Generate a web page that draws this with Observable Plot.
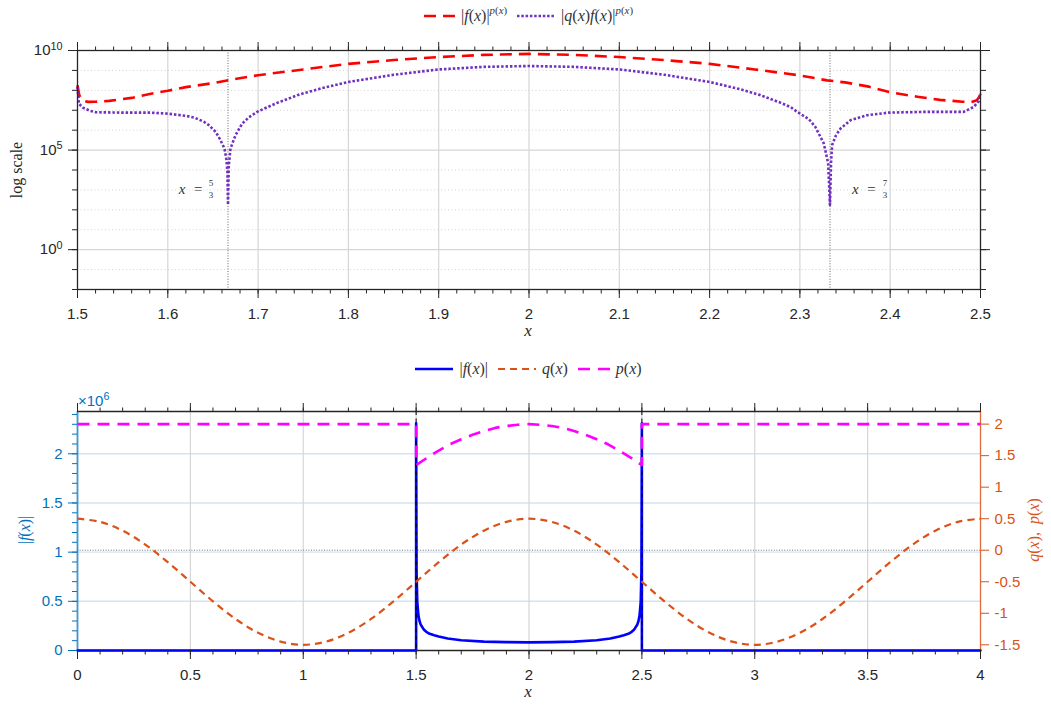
<!DOCTYPE html>
<html><head><meta charset="utf-8">
<script src="https://cdn.jsdelivr.net/npm/d3@7"></script>
<script src="https://cdn.jsdelivr.net/npm/@observablehq/plot@0.6"></script>
<style>
body{margin:0;background:#fff;}
#wrap{position:relative;width:1051px;height:706px;overflow:hidden;font-family:"Liberation Sans",Arial,sans-serif;}
.abs{position:absolute;white-space:nowrap;}
.tex{font-family:"Liberation Serif","DejaVu Serif",serif;}
.legend{position:absolute;left:0;width:1057px;height:20px;display:flex;justify-content:center;align-items:center;font-family:"Liberation Serif",serif;font-size:16px;color:#333;}
sup{font-size:0.68em;vertical-align:0.6em;line-height:0;}
.rot{transform:translate(-50%,-50%) rotate(-90deg);}
.ctr{transform:translate(-50%,-50%);}
</style></head>
<body><div id="wrap"></div>
<script>
// ---------------- DATA ----------------
// Top panel (x in [1.5, 2.5]) : |f(x)|^p(x)
const topXf = [1.5,1.502,1.506,1.512,1.52,1.535,1.56,1.58,1.6,1.62,1.65,1.67,1.7,1.75,1.8,1.85,1.9,1.95,2.0,
  2.05,2.1,2.15,2.2,2.25,2.3,2.33,2.35,2.375,2.4,2.43,2.455,2.48,2.49,2.496,2.499,2.5];
const topFp = [1.78e8,5.62e7,3.02e7,2.63e7,2.69e7,2.95e7,4.17e7,6.61e7,9.55e7,1.45e8,2.29e8,3.39e8,5.75e8,1.12e9,2.14e9,3.31e9,4.68e9,6.03e9,6.76e9,
  6.03e9,4.68e9,3.31e9,2.14e9,1.12e9,5.62e8,3.16e8,2.51e8,1.58e8,7.94e7,4.79e7,3.31e7,2.69e7,2.63e7,3.16e7,5.01e7,1.0e8];
// Top panel : |q(x) f(x)|^p(x)
const topXqf = [1.5,1.5015,1.506,1.514,1.52,1.55,1.58,1.6,1.62,1.63,1.64,1.645,1.653,1.658,1.6628,1.665,1.666,1.6667,
  1.6675,1.6694,1.675,1.6824,1.69,1.699,1.71,1.7212,1.745,1.77,1.8,1.85,1.9,1.95,2.0,
  2.05,2.1,2.15,2.2,2.23,2.255,2.279,2.29,2.297,2.31,2.317,2.3265,2.3313,2.3333,
  2.3345,2.3357,2.34,2.345,2.356,2.3745,2.398,2.44,2.4815,2.4926,2.498,2.5];
const topQfp = [1.48e8,2.14e7,1.35e7,9.33e6,7.94e6,7.59e6,7.59e6,6.76e6,5.25e6,4.17e6,2.63e6,1.86e6,8.32e5,3.39e5,1.2e5,3.16e4,7.94e3,178,
  1.58e4,1.2e5,5.62e5,2.14e6,4.47e6,8.32e6,1.41e7,2.34e7,6.03e7,1.26e8,2.63e8,6.03e8,1.12e9,1.51e9,1.66e9,
  1.51e9,1.12e9,6.03e8,2.63e8,1.26e8,6.03e7,2.34e7,1.41e7,8.32e6,3.55e6,1.48e6,2.14e5,2.14e4,178,
  2.51e4,1.78e5,5.62e5,1.2e6,3.16e6,5.62e6,7.59e6,8.32e6,8.32e6,1.48e7,2.82e7,6.76e7];
const markerX = [5/3, 7/3];
const markerNum = ["5", "7"];
const markerDen = ["3", "3"];
const annotY = 1.12e3;

// Bottom panel (x in [0, 4])
const xF = [0,1.5,1.5,1.502,1.505,1.51,1.515,1.52,1.535,1.545,1.56,1.58,1.6,1.64,1.7,1.8,1.9,2.0,
  2.1,2.2,2.3,2.36,2.4,2.42,2.44,2.455,2.465,2.48,2.485,2.49,2.495,2.498,2.5,2.5,4];
const fVals = [0,0,2.31e6,8.0e5,5.0e5,3.6e5,3.0e5,2.65e5,2.1e5,1.9e5,1.7e5,1.55e5,1.42e5,1.22e5,1.04e5,9.0e4,8.5e4,8.3e4,
  8.5e4,9.0e4,1.04e5,1.22e5,1.42e5,1.55e5,1.7e5,1.9e5,2.1e5,2.65e5,3.0e5,3.6e5,5.0e5,8.0e5,2.31e6,0,0];
const xQ = [0,0.1,0.2,0.3,0.4,0.5,0.6,0.7,0.8,0.9,1.0,1.1,1.2,1.3,1.4,1.5,1.6,1.7,1.8,1.9,2.0,
  2.1,2.2,2.3,2.4,2.5,2.6,2.7,2.8,2.9,3.0,3.1,3.2,3.3,3.4,3.5,3.6,3.7,3.8,3.9,4.0];
const qVals = [0.5,0.45,0.31,0.09,-0.19,-0.5,-0.81,-1.09,-1.31,-1.45,-1.5,-1.45,-1.31,-1.09,-0.81,-0.5,-0.19,0.09,0.31,0.45,0.5,
  0.45,0.31,0.09,-0.19,-0.5,-0.81,-1.09,-1.31,-1.45,-1.5,-1.45,-1.31,-1.09,-0.81,-0.5,-0.19,0.09,0.31,0.45,0.5];
const xP = [0,1.5,1.5,1.55,1.6,1.65,1.7,1.75,1.8,1.85,1.9,1.95,2.0,2.05,2.1,2.15,2.2,2.25,2.3,2.35,2.4,2.45,2.5,2.5,4];
const pVals = [2,2,1.35,1.47,1.58,1.68,1.76,1.83,1.89,1.94,1.97,1.99,2.0,1.99,1.97,1.94,1.89,1.83,1.76,1.68,1.58,1.47,1.35,2,2];
const jumpX = [1.5, 2.5];

// ticks / labels
const topXTicks = [1.5,1.6,1.7,1.8,1.9,2,2.1,2.2,2.3,2.4,2.5];
const topYMajor = [1, 1e5, 1e10];
const topYMajorLabels = ["10^0", "10^5", "10^10"];
const botXTicks = [0,0.5,1,1.5,2,2.5,3,3.5,4];
const leftTicks = [0,0.5e6,1e6,1.5e6,2e6];
const leftTickLabels = ["0","0.5","1","1.5","2"];
const rightTicks = [2,1.5,1,0.5,0,-0.5,-1,-1.5];
const rightTickLabels = ["2","1.5","1","0.5","0","-0.5","-1","-1.5"];

const topLegend = [
  {label: '|<i>f</i>(<i>x</i>)|<sup><i>p</i>(<i>x</i>)</sup>', color: "#FF0000", sw: 2.5, dash: "12,7", w: 31},
  {label: '|<i>q</i>(<i>x</i>)<i>f</i>(<i>x</i>)|<sup><i>p</i>(<i>x</i>)</sup>', color: "#7030C0", sw: 2.5, dash: "2.5,1.8", w: 38}
];
const botLegend = [
  {label: '|<i>f</i>(<i>x</i>)|', color: "#0000FF", sw: 2.5, dash: null, w: 38},
  {label: '<i>q</i>(<i>x</i>)', color: "#D95319", sw: 2, dash: "7,5", w: 38},
  {label: '<i>p</i>(<i>x</i>)', color: "#FF00FF", sw: 2.5, dash: "12,8", w: 32}
];

// ---------------- STYLE ----------------
const W = 1051;
const AX = "#262626";
const BLUE_AX = "#0072BD";
const ORANGE = "#D95319";
const GRID = "#d6d6d6";
const lDom = [0, 2.43e6];
const rDom = [-1.59, 2.2];
const toLeft = v => (v - rDom[0]) / (rDom[1] - rDom[0]) * (lDom[1] - lDom[0]) + lDom[0];
const fromLeft = d => (d - lDom[0]) / (lDom[1] - lDom[0]) * (rDom[1] - rDom[0]) + rDom[0];
const fmt1 = d => String(Math.round(d * 10) / 10);
const none = () => "";
const pts = (xs, ys) => xs.map((x, i) => ({x, y: ys[i]}));

const wrap = document.getElementById("wrap");
const baseStyle = {fontFamily: '"Liberation Sans", Arial, sans-serif', fontSize: "15px", background: "transparent", overflow: "visible"};

// ---------------- TOP PLOT ----------------
const topXMinor = d3.range(0, 51).map(i => 1.5 + i * 0.02);
const decades = d3.range(-2, 11).map(k => Math.pow(10, k));
const minorDecades = decades.filter(d => !topYMajor.includes(d));

const topMarks = [
  Plot.ruleY(minorDecades, {stroke: "#d2d2d2", strokeDasharray: "1,2.5", strokeWidth: 1}),
  Plot.ruleY(topYMajor, {stroke: GRID, strokeWidth: 1.2}),
  Plot.ruleX(topXTicks.slice(1, -1), {stroke: GRID, strokeWidth: 1.2}),
  Plot.ruleX(markerX, {stroke: "#555", strokeDasharray: "1,1.6", strokeWidth: 0.9}),
  Plot.line(pts(topXf, topFp), {x: "x", y: "y", stroke: "#FF0000", strokeWidth: 2.6, strokeDasharray: "12,7", strokeLinecap: "butt"}),
  Plot.line(pts(topXqf, topQfp), {x: "x", y: "y", stroke: "#7030C0", strokeWidth: 2.6, strokeDasharray: "2.5,1.9", strokeLinecap: "butt"}),
  Plot.frame({stroke: AX, strokeWidth: 1.3}),
  Plot.axisX(topXMinor, {anchor: "bottom", tickSize: 4.5, tickFormat: none, color: AX, label: null}),
  Plot.axisX(topXTicks, {anchor: "bottom", tickSize: 9, tickPadding: 10, tickFormat: fmt1, color: AX, label: null}),
  Plot.axisX(topXMinor, {anchor: "top", tickSize: 4.5, tickFormat: none, color: AX, label: null}),
  Plot.axisX(topXTicks, {anchor: "top", tickSize: 9, tickFormat: none, color: AX, label: null}),
  Plot.axisY(decades, {anchor: "left", tickSize: 5, tickFormat: none, color: AX, label: null}),
  Plot.axisY(topYMajor, {anchor: "left", tickSize: 9, tickPadding: 6, tickFormat: d => topYMajorLabels[topYMajor.indexOf(d)], color: AX, label: null}),
  Plot.axisY(decades, {anchor: "right", tickSize: 5, tickFormat: none, color: AX, label: null}),
  Plot.axisY(topYMajor, {anchor: "right", tickSize: 9, tickFormat: none, color: AX, label: null})
];
// annotations x = 5/3, x = 7/3
markerX.forEach((mx, i) => {
  const left = i === 0;
  const d = [{x: mx, y: annotY}];
  const tfont = {fontFamily: '"Liberation Serif", serif', fill: "#333"};
  const dxEq = left ? -25 : 22;
  const dxFr = left ? -17 : 55;
  topMarks.push(
    Plot.text(d, {x: "x", y: "y", text: () => "x\u2002=", dx: dxEq, textAnchor: left ? "end" : "start", fontSize: 15, fontStyle: "italic", lineAnchor: "middle", ...tfont}),
    Plot.text(d, {x: "x", y: "y", text: () => markerNum[i], dx: dxFr, dy: -5.5, fontSize: 9, lineAnchor: "middle", ariaLabel: "frac-num", ...tfont}),
    Plot.text(d, {x: "x", y: "y", text: () => markerDen[i], dx: dxFr, dy: 6.5, fontSize: 9, lineAnchor: "middle", ...tfont})
  );
});

const topChart = Plot.plot({
  width: W, height: 345,
  marginLeft: 77, marginRight: 71, marginTop: 50, marginBottom: 56,
  x: {domain: [1.5, 2.5]},
  y: {type: "log", domain: [1e-2, 1e10]},
  style: baseStyle,
  marks: topMarks
});
// superscript exponents
d3.select(topChart).selectAll("text").each(function () {
  const m = (this.textContent || "").match(/^10\^(-?\d+)$/);
  if (m) {
    const s = d3.select(this);
    s.text(null);
    s.append("tspan").text("10");
    s.append("tspan").attr("dy", "-0.5em").attr("font-size", "0.72em").text(m[1]);
  }
});
// fraction bar as underline of the numerator
d3.select(topChart).selectAll('g[aria-label="frac-num"] text').attr("text-decoration", "underline");
topChart.style.position = "absolute"; topChart.style.left = "0px"; topChart.style.top = "0px";
wrap.appendChild(topChart);

// ---------------- BOTTOM PLOT ----------------
const botXMinor = d3.range(0, 41).map(i => i * 0.1);
const leftMinor = d3.range(0, 25).map(i => i * 1e5);
const gridL = leftTicks.slice(1);

const botChart = Plot.plot({
  width: W, height: 361,
  marginLeft: 77, marginRight: 71, marginTop: 66, marginBottom: 56,
  x: {domain: [0, 4]},
  y: {domain: lDom},
  style: baseStyle,
  marks: [
    Plot.ruleY(gridL, {stroke: "#d3e3f2", strokeWidth: 1.4}),
    Plot.ruleX(botXTicks.slice(1, -1), {stroke: GRID, strokeWidth: 1.2}),
    Plot.ruleY([toLeft(0)], {stroke: "#666", strokeDasharray: "1,1.6", strokeWidth: 0.9}),
    Plot.ruleY([lDom[0]], {stroke: AX, strokeWidth: 1.3}),
    Plot.ruleY([lDom[1]], {stroke: AX, strokeWidth: 1.3}),
    Plot.ruleX([0], {stroke: BLUE_AX, strokeWidth: 1.8, strokeOpacity: 0.75}),
    Plot.ruleX([4], {stroke: ORANGE, strokeWidth: 1.3, strokeOpacity: 0.85}),
    Plot.line(pts(xF, fVals), {x: "x", y: "y", stroke: "#0000FF", strokeWidth: 2.6}),
    Plot.ruleX(jumpX, {stroke: "#000", strokeDasharray: "4,3.5", strokeWidth: 1}),
    Plot.line(pts(xQ, qVals), {x: "x", y: d => toLeft(d.y), stroke: ORANGE, strokeWidth: 2.2, strokeDasharray: "7,5", strokeLinecap: "butt", curve: "catmull-rom"}),
    Plot.line(pts(xP, pVals), {x: "x", y: d => toLeft(d.y), stroke: "#FF00FF", strokeWidth: 2.6, strokeDasharray: "12,8", strokeLinecap: "butt"}),
    Plot.axisX(botXMinor, {anchor: "bottom", tickSize: 4.5, tickFormat: none, color: AX, label: null}),
    Plot.axisX(botXTicks, {anchor: "bottom", tickSize: 9, tickPadding: 10, tickFormat: fmt1, color: AX, label: null}),
    Plot.axisX(botXMinor, {anchor: "top", tickSize: 4.5, tickFormat: none, color: AX, label: null}),
    Plot.axisX(botXTicks, {anchor: "top", tickSize: 9, tickFormat: none, color: AX, label: null}),
    Plot.axisY(leftMinor, {anchor: "left", tickSize: 5, tickFormat: none, color: BLUE_AX, label: null}),
    Plot.axisY(leftTicks, {anchor: "left", tickSize: 9, tickPadding: 6, tickFormat: d => leftTickLabels[leftTicks.indexOf(d)], color: BLUE_AX, label: null}),
    Plot.axisY(rightTicks.map(toLeft), {anchor: "right", tickSize: 8, tickPadding: 6,
      tickFormat: d => { const v = Math.round(fromLeft(d) * 2) / 2; return rightTickLabels[rightTicks.indexOf(v)] ?? String(v); },
      color: ORANGE, label: null})
  ]
});
botChart.style.position = "absolute"; botChart.style.left = "0px"; botChart.style.top = "345px";
wrap.appendChild(botChart);

// ---------------- TEXT OVERLAYS ----------------
function addHTML(html, css, cls) {
  const d = document.createElement("div");
  d.className = "abs " + (cls || "");
  d.style.cssText += css;
  d.innerHTML = html;
  wrap.appendChild(d);
}
addHTML('<i>x</i>', "left:528px;top:331px;font-size:17px;color:#262626;", "tex ctr");
addHTML('log scale', "left:17px;top:170px;font-size:16px;color:#262626;", "tex rot");
addHTML('<i>x</i>', "left:528px;top:692px;font-size:17px;color:#262626;", "tex ctr");
addHTML('|<i>f</i>(<i>x</i>)|', "left:25px;top:530px;font-size:16px;color:" + BLUE_AX + ";", "tex rot");
addHTML('<i>q</i>(<i>x</i>),&nbsp;&nbsp;<i>p</i>(<i>x</i>)', "left:1034px;top:530px;font-size:16px;color:" + ORANGE + ";", "tex rot");
addHTML('\u00d710<sup style="font-size:0.72em;vertical-align:0.55em">6</sup>', "left:78px;top:392px;font-size:15px;color:" + BLUE_AX + ";font-family:'Liberation Sans',Arial,sans-serif;");

function legend(items, top) {
  const div = document.createElement("div");
  div.className = "legend";
  div.style.top = top + "px";
  items.forEach((it, i) => {
    const dash = it.dash ? ` stroke-dasharray="${it.dash}"` : "";
    div.insertAdjacentHTML("beforeend",
      `<svg width="${it.w}" height="10" style="margin-right:6px;margin-left:${i ? 10 : 0}px"><line x1="0" y1="5" x2="${it.w}" y2="5" stroke="${it.color}" stroke-width="${it.sw}"${dash}/></svg><span>${it.label}</span>`);
  });
  wrap.appendChild(div);
}
legend(topLegend, 6);
legend(botLegend, 359);
</script></body></html>
